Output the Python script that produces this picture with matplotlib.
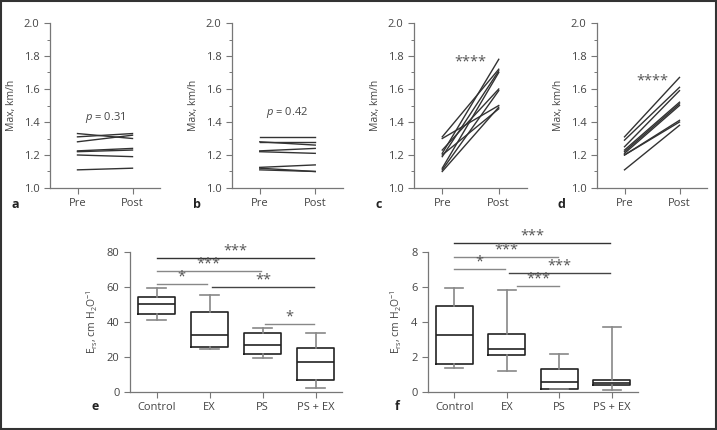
import matplotlib
matplotlib.use("Agg")
import matplotlib.pyplot as plt
from matplotlib.patches import Rectangle
from matplotlib.ticker import MultipleLocator

plt.rcParams['font.family'] = ['Open Sans', 'DejaVu Sans']
plt.rcParams['mathtext.fontset'] = 'custom'
plt.rcParams['mathtext.rm'] = 'Open Sans'
plt.rcParams['mathtext.it'] = 'Open Sans:italic'

TXT = '#444444'
SP = '#777777'

# ---- data: paired panels ----
time_labels = ['Pre', 'Post']
a_pre = [1.33, 1.31, 1.28, 1.225, 1.22, 1.20, 1.11]
a_post = [1.30, 1.33, 1.32, 1.24, 1.23, 1.19, 1.12]
b_pre = [1.31, 1.28, 1.28, 1.225, 1.22, 1.125, 1.12, 1.11]
b_post = [1.31, 1.28, 1.26, 1.24, 1.21, 1.14, 1.10, 1.10]
c_pre = [1.31, 1.30, 1.23, 1.21, 1.20, 1.19, 1.12, 1.11, 1.10]
c_post = [1.72, 1.50, 1.60, 1.78, 1.48, 1.71, 1.70, 1.59, 1.49]
d_pre = [1.31, 1.29, 1.25, 1.23, 1.22, 1.21, 1.20, 1.20, 1.11]
d_post = [1.67, 1.61, 1.59, 1.52, 1.51, 1.50, 1.41, 1.40, 1.38]
paired_texts = ['$p$ = 0.31', '$p$ = 0.42', '****', '****']
paired_text_y = [1.425, 1.455, 1.77, 1.655]
panel_letters_top = ['a', 'b', 'c', 'd']

# ---- data: box panels ----
groups = ['Control', 'EX', 'PS', 'PS + EX']
e_whislo = [41.1, 24.4, 19.2, 2.5]
e_q1 = [44.6, 25.9, 21.7, 6.7]
e_med = [50.3, 32.6, 27.0, 17.3]
e_q3 = [54.5, 45.5, 33.5, 25.1]
e_whishi = [59.4, 55.2, 36.4, 33.5]

f_whislo = [1.35, 1.20, 0.15, 0.11]
f_q1 = [1.58, 2.10, 0.19, 0.40]
f_med = [3.26, 2.44, 0.59, 0.53]
f_q3 = [4.93, 3.33, 1.30, 0.69]
f_whishi = [5.93, 5.81, 2.15, 3.70]

# significance brackets: (x_start, x_end, y, label, color)
e_sig = [(0, 2.97, 76.7, '***', '#333333'),
         (0, 1.97, 69.1, '***', '#888888'),
         (0, 0.95, 61.7, '*', '#888888'),
         (1.05, 2.97, 59.8, '**', '#444444'),
         (2.05, 2.97, 38.7, '*', '#888888')]
f_sig = [(0, 2.97, 8.5, '***', '#333333'),
         (0, 1.97, 7.73, '***', '#888888'),
         (0, 0.97, 7.01, '*', '#888888'),
         (1.05, 2.97, 6.82, '***', '#444444'),
         (1.2, 1.99, 6.06, '***', '#888888')]

W, H = 717, 430
fig = plt.figure(figsize=(W / 100, H / 100), dpi=100)


def ax_px(l, r, top, bottom):
    return fig.add_axes([l / W, (H - bottom) / H, (r - l) / W, (bottom - top) / H])


def style(ax):
    for s in ['top', 'right']:
        ax.spines[s].set_visible(False)
    for s in ['left', 'bottom']:
        ax.spines[s].set_color(SP)
        ax.spines[s].set_linewidth(0.9)
    ax.tick_params(colors=SP, labelcolor=TXT, labelsize=8, length=4, width=0.8)
    ax.tick_params(which='minor', colors=SP, length=2.5, width=0.7)


def stars(ax, x, y, lab, dy):
    ax.annotate(lab, (x, y), xytext=(0, dy), textcoords='offset points',
                ha='center', va='baseline', fontsize=10.5, color='#555555',
                annotation_clip=False)


paired = [(a_pre, a_post), (b_pre, b_post), (c_pre, c_post), (d_pre, d_post)]
lefts = [(50, 160), (232, 343), (414, 527), (597, 707)]
for i, ((pre, post), (l, r)) in enumerate(zip(paired, lefts)):
    ax = ax_px(l, r, 23, 188)
    style(ax)
    for p0, p1 in zip(pre, post):
        ax.plot([0, 1], [p0, p1], color='#333333', lw=1.0)
    ax.set_xlim(-0.5, 1.5)
    ax.set_ylim(1.0, 2.0)
    ax.set_xticks([0, 1])
    ax.set_xticklabels(time_labels)
    ax.yaxis.set_major_locator(MultipleLocator(0.2))
    ax.yaxis.set_minor_locator(MultipleLocator(0.1))
    ax.yaxis.set_major_formatter(matplotlib.ticker.FormatStrFormatter('%.1f'))
    ax.set_ylabel('Max, km/h', fontsize=7.5, color=TXT, labelpad=5)
    if i < 2:
        ax.text(0.5, paired_text_y[i], paired_texts[i], ha='center', va='center',
                fontsize=8, color=TXT)
    else:
        stars(ax, 0.5, paired_text_y[i], paired_texts[i], -3)
    fig.text((l - 39) / W, (H - 205) / H, panel_letters_top[i], fontsize=9,
             fontweight='bold', color='#222222', ha='left', va='center')


def boxpanel(l, r, wl, q1, md, q3, wh, ylim, yticks, sig, letter, letter_x):
    ax = ax_px(l, r, 252, 392)
    style(ax)
    stats = []
    for i in range(len(groups)):
        stats.append(dict(whislo=wl[i], q1=q1[i], med=md[i], q3=q3[i],
                          whishi=wh[i], fliers=[]))
    ax.bxp(stats, positions=range(len(groups)), widths=0.7, showfliers=False,
           boxprops=dict(color='#222222', lw=1.2),
           medianprops=dict(color='#222222', lw=1.2),
           whiskerprops=dict(color='#888888', lw=1.2),
           capprops=dict(color='#888888', lw=1.2),
           capwidths=0.35)
    ax.set_xlim(-0.5, 3.5)
    ax.set_ylim(*ylim)
    ax.set_yticks(yticks)
    ax.set_xticks(range(len(groups)))
    ax.set_xticklabels(groups)
    ax.set_ylabel(r'E$_{\rm rs}$, cm H$_2$O$^{-1}$', fontsize=7.5, color=TXT, labelpad=5)
    for x0, x1, y, lab, col in sig:
        ax.plot([x0, x1], [y, y], color=col, lw=1.0, clip_on=False)
        stars(ax, (x0 + x1) / 2, y, lab, 2.5)
    fig.text(letter_x / W, (H - 406) / H, letter, fontsize=9, fontweight='bold',
             color='#222222', ha='left', va='center')
    return ax


boxpanel(130, 342, e_whislo, e_q1, e_med, e_q3, e_whishi, (0, 80),
         [0, 20, 40, 60, 80], e_sig, 'e', 92)
boxpanel(428, 638, f_whislo, f_q1, f_med, f_q3, f_whishi, (0, 8),
         [0, 2, 4, 6, 8], f_sig, 'f', 395)

fig.patches.append(Rectangle((0.5 / W, 1.5 / H), (W - 1.5) / W, (H - 2.5) / H,
                             transform=fig.transFigure, fill=False,
                             edgecolor='#333333', lw=1.5))

fig.savefig('out.png', dpi=100)
